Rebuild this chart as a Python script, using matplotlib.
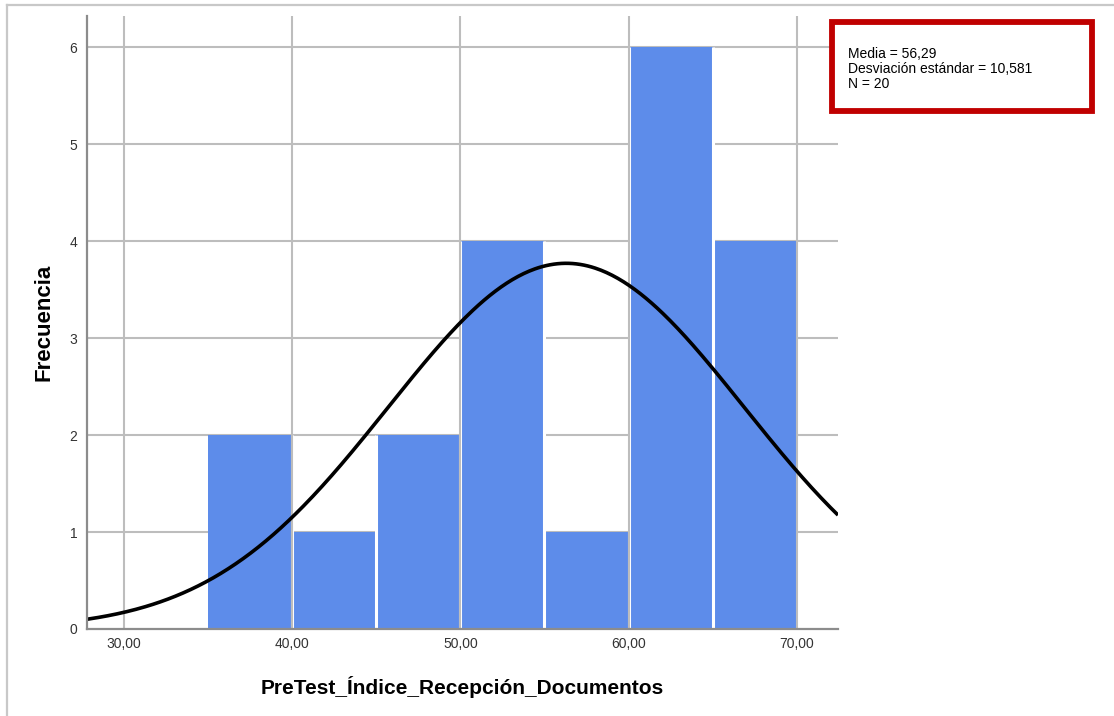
import numpy as np
import matplotlib
matplotlib.use("Agg")
import matplotlib.pyplot as plt
from matplotlib.patches import Rectangle
from matplotlib.lines import Line2D

plt.rcParams['font.family'] = ['Liberation Sans', 'DejaVu Sans']

# Histogram data
bin_edges = [35, 40, 45, 50, 55, 60, 65, 70]
counts = [2, 1, 2, 4, 1, 6, 4]
media = 56.29
desviacion = 10.581
n_total = 20

x_ticks = [30, 40, 50, 60, 70]
x_tick_labels = ["30,00", "40,00", "50,00", "60,00", "70,00"]
y_ticks = [0, 1, 2, 3, 4, 5, 6]

fig = plt.figure(figsize=(11.14, 7.16), dpi=100)
ax = fig.add_axes([87 / 1114, 1 - 629 / 716, (838 - 87) / 1114, (629 - 16) / 716])

grid_color = "#bdbdbd"
bar_color = "#5d8cea"

# horizontal grid behind the bars
for yv in y_ticks[1:]:
    ax.axhline(yv, color=grid_color, lw=1.5, zorder=0)

widths = np.diff(bin_edges)
ax.bar(bin_edges[:-1], counts, width=widths, align="edge", color=bar_color,
       linewidth=0, zorder=1)

# white separators between neighbouring bars
inner_edges = bin_edges[1:-1]
sep_heights = [max(a, b) for a, b in zip(counts[:-1], counts[1:])]
ax.vlines(inner_edges, 0, sep_heights, colors="white", lw=2.2, zorder=1.5)

# vertical grid in front of the bars
for xv in x_ticks:
    ax.axvline(xv, color=grid_color, lw=1.5, zorder=2)

xmin, xmax = 27.8, 72.45
xs = np.linspace(xmin, xmax, 400)
bw = bin_edges[1] - bin_edges[0]
ys = n_total * bw / (desviacion * np.sqrt(2 * np.pi)) * np.exp(-0.5 * ((xs - media) / desviacion) ** 2)
ax.plot(xs, ys, color="black", lw=2.6, zorder=3, solid_capstyle="butt")

ax.set_xlim(xmin, xmax)
ax.set_ylim(0, 6.32)
ax.set_xticks(x_ticks)
ax.set_xticklabels(x_tick_labels)
ax.set_yticks(y_ticks)
ax.tick_params(length=0, labelsize=10, colors="#333333")
ax.tick_params(axis="x", pad=6)
ax.tick_params(axis="y", pad=7)

for side in ("top", "right"):
    ax.spines[side].set_visible(False)
for side in ("left", "bottom"):
    ax.spines[side].set_color("#8c8c8c")
    ax.spines[side].set_linewidth(1.6)
    ax.spines[side].set_zorder(4)

ax.set_xlabel("PreTest_Índice_Recepción_Documentos", fontsize=15, fontweight="bold", labelpad=18)
ax.set_ylabel("Frecuencia", fontsize=16, fontweight="bold", labelpad=11)

# outer frame (top and left edges)
fig.add_artist(Line2D([7 / 1114, 1], [1 - 5 / 716, 1 - 5 / 716], transform=fig.transFigure,
                      color="#c8c8c8", lw=1.6))
fig.add_artist(Line2D([7 / 1114, 7 / 1114], [0, 1 - 5 / 716], transform=fig.transFigure,
                      color="#c8c8c8", lw=1.6))

# statistics box
box_x0, box_x1 = 831.5 / 1114, 1091.5 / 1114
box_y0, box_y1 = 1 - 111 / 716, 1 - 21.5 / 716
fig.add_artist(Rectangle((box_x0, box_y0), box_x1 - box_x0, box_y1 - box_y0,
                         transform=fig.transFigure, fill=True, facecolor="white",
                         edgecolor="#c00000", lw=4.2, zorder=5))
stats_text = f"Media = {media:.2f}".replace(".", ",") + "\n" + \
    f"Desviación estándar = {desviacion:.3f}".replace(".", ",") + "\n" + \
    f"N = {n_total}"
fig.text(848 / 1114, 1 - 47 / 716, stats_text, ha="left", va="top", fontsize=10,
         color="black", linespacing=1.07, zorder=6)

fig.savefig("out.png", dpi=100)
